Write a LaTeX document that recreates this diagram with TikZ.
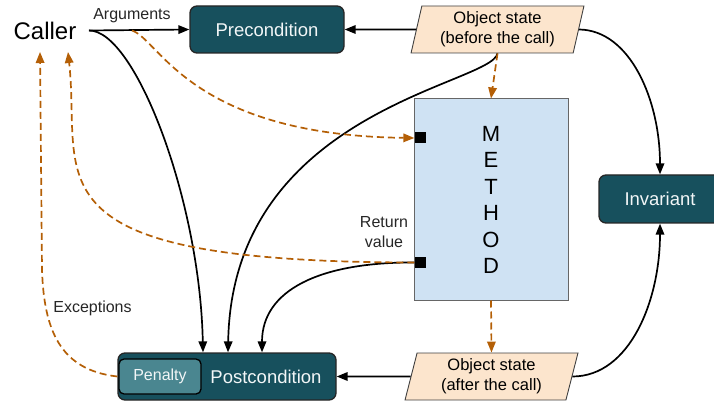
\documentclass[tikz,border=0pt]{standalone}
\usepackage{fontspec}
\setmainfont{Liberation Sans}
\usetikzlibrary{shapes.geometric,arrows.meta}
\definecolor{tealbox}{HTML}{17505D}
\definecolor{penfill}{HTML}{4A8690}
\definecolor{orng}{HTML}{B45F06}
\definecolor{methfill}{HTML}{CFE2F3}
\definecolor{peach}{HTML}{FCE5CD}
\definecolor{boxtext}{HTML}{F2F6F7}
\begin{document}
\begin{tikzpicture}[x=1pt,y=-1pt,
  tbox/.style={draw=black!85, line width=1.3pt, fill=tealbox, rounded corners=7pt, text=boxtext, font=\fontsize{18.5}{22}\selectfont, inner sep=0pt},
  para/.style={trapezium, trapezium left angle=77, trapezium right angle=103, trapezium stretches=true, draw=black!75, fill=peach, line width=0.9pt, minimum width=173pt, minimum height=47pt, align=center, font=\fontsize{16.5}{20}\selectfont, inner sep=0pt},
  conn/.style={line width=1.7pt, -{Triangle[length=11pt,width=8.5pt]}},
  dconn/.style={line width=1.7pt, draw=orng, dash pattern=on 7pt off 4pt, -{Triangle[length=11pt,width=8.5pt,fill=orng]}},
  lbl/.style={font=\fontsize{16}{20}\selectfont, align=center, inner sep=0pt, text=black!85},
  sqport/.style={fill=black, minimum size=11pt, inner sep=0pt}
]
\useasboundingbox (0,0) rectangle (714,403);

% nodes
\node[font=\fontsize{24}{28}\selectfont, inner sep=0pt] (caller) at (45,31) {Caller};
\coordinate (cout) at (89,30.5);
\coordinate (argsplit) at (132,30.5);
\coordinate (callerA) at (40,52);
\coordinate (callerB) at (68,52);
\node[lbl] (args) at (132,16) {Arguments};

\node[tbox, minimum width=154pt, minimum height=47pt] (pre) at (267,29.5) {Precondition};
\node[para] (osb) at (497.5,29.5) {Object state\\(before the call)};

\node[draw=black!60, fill=methfill, line width=1pt, minimum width=154pt, minimum height=201pt, inner sep=0pt] (method) at (491,199.5) {};
\node[font=\fontsize{22}{26.5}\selectfont, align=center, inner sep=0pt] (methtxt) at (491,200) {M\\E\\T\\H\\O\\D};
\node[sqport] (sqa) at (420,138) {};
\node[sqport] (sqb) at (420,262.5) {};
\node[lbl] (retval) at (384,232.5) {Return\\value};

\node[tbox, minimum width=122pt, minimum height=48pt] (inv) at (660,199) {Invariant};

\node[tbox, minimum width=218pt, minimum height=47pt] (post) at (227,376.5) {};
\node[draw=black, line width=1.3pt, fill=penfill, rounded corners=5pt, minimum width=82pt, minimum height=35pt, inner sep=0pt, text=boxtext, font=\fontsize{16}{20}\selectfont] (pen) at (160,376.5) {Penalty};
\node[text=boxtext, font=\fontsize{18.5}{22}\selectfont, inner sep=0pt] (posttxt) at (266,376.5) {Postcondition};

\node[para] (osa) at (491.5,376.5) {Object state\\(after the call)};
\node[lbl] (exc) at (92.5,308) {Exceptions};

% solid connectors
\draw[conn] (cout) -- (pre.west);
\draw[conn] (osb.west) -- (pre.east);
\draw[conn] (cout) .. controls (135,30) and (200,200) .. ([xshift=-24pt]post.north);
\draw[conn] (osb.south) .. controls (491,85) and (232,110) .. ([xshift=1pt]post.north);
\draw[conn] (sqb.west) .. controls (320,262) and (262,290) .. ([xshift=35pt]post.north);
\draw[conn] (osa.west) -- (post.east);
\draw[conn] (osb.east) .. controls (630,30) and (660,100) .. (inv.north);
\draw[conn] (osa.east) .. controls (630,376.5) and (660,300) .. (inv.south);

% dashed connectors
\draw[dconn] (osb.south) -- (method.north);
\draw[dconn] (method.south) -- (osa.north);
\draw[dconn] (argsplit) .. controls (160,40) and (190,135) .. (sqa.west);
\draw[dconn] (sqb.west) .. controls (20,262) and (82,180) .. (callerB);
\draw[dconn] (post.west) .. controls (60,370) and (44,330) .. (42,270) -- (callerA);
\end{tikzpicture}
\end{document}
